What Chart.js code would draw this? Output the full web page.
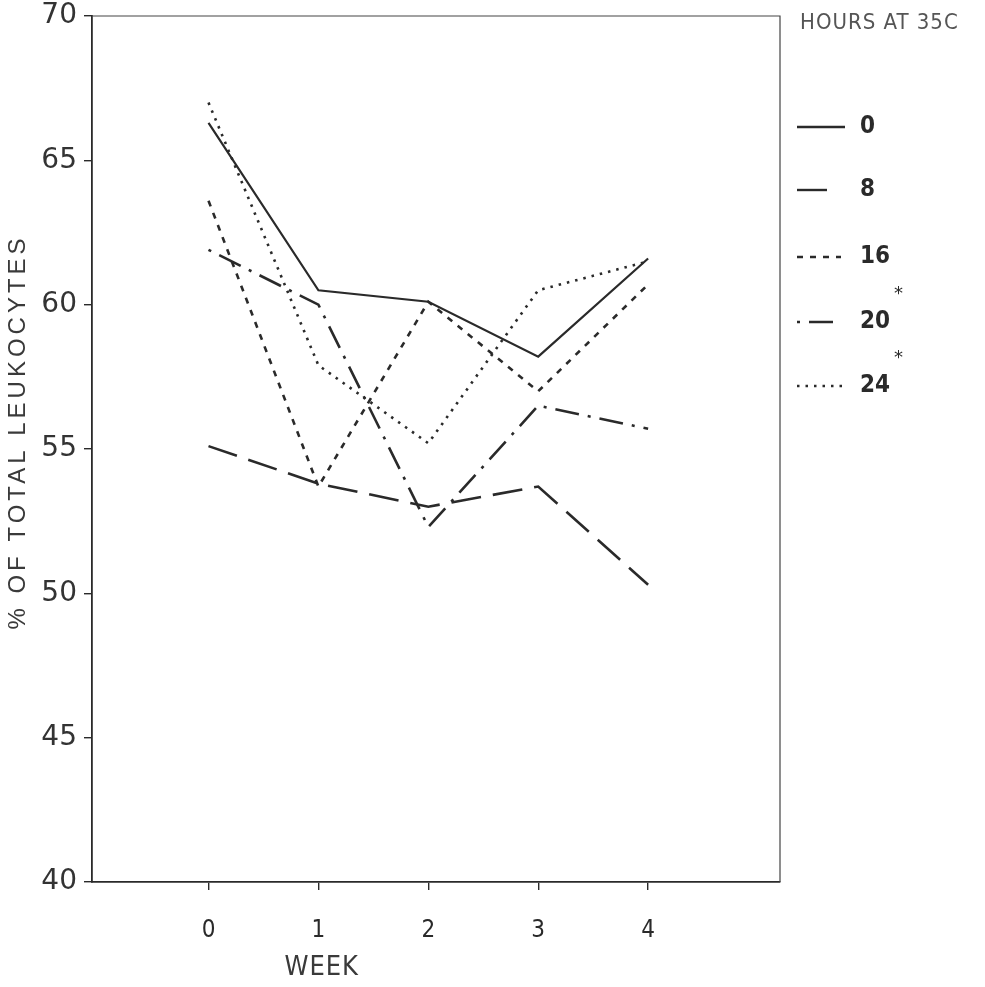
<!DOCTYPE html>
<html>
<head>
<meta charset="utf-8">
<script src="https://cdn.jsdelivr.net/npm/chart.js@4.4.1/dist/chart.umd.min.js"></script>
<style>
  html, body { margin: 0; padding: 0; background: #fff; }
  #wrap { width: 985px; height: 987px; }
</style>
</head>
<body>
<div id="wrap"><canvas id="chart" width="985" height="987"></canvas></div>
<script>
// weeks on the x axis, one series per number of hours at 35C
const weeks = [0, 1, 2, 3, 4];
const hours = ["0", "8", "16", "20", "24"];
const starred = [false, false, false, true, true];
const h0 = [66.3, 60.5, 60.1, 58.2, 61.6];
const h8 = [55.1, 53.8, 53.0, 53.7, 50.3];
const h16 = [63.6, 53.7, 60.1, 57.0, 60.7];
const h20 = [61.9, 60.0, 52.3, 56.5, 55.7];
const h24 = [67.0, 57.9, 55.2, 60.5, 61.5];

const INK = "#2a2a2a";
const NARROW = "'Liberation Sans Narrow', 'DejaVu Sans Condensed', 'Liberation Sans', sans-serif";
const dashes = [[], [30, 12], [6, 7], [3, 9, 24, 9], [2.5, 6]];
const sampleLen = [48, 36, 44, 44, 48];
const series = [h0, h8, h16, h20, h24];

const datasets = series.map((vals, i) => ({
  label: hours[i],
  data: weeks.map((w, j) => ({ x: w, y: vals[j] })),
  borderColor: INK,
  borderWidth: i === 0 ? 2.2 : 2.6,
  borderDash: dashes[i],
  pointRadius: 0,
  tension: 0,
  fill: false,
}));

const paper = {
  id: "paper",
  beforeDraw(chart) {
    const ctx = chart.ctx;
    ctx.save();
    ctx.fillStyle = "#ffffff";
    ctx.fillRect(0, 0, chart.width, chart.height);
    ctx.restore();
  },
  afterDraw(chart) {
    const ctx = chart.ctx;
    const a = chart.chartArea;
    ctx.save();

    // top and right edges of the frame
    ctx.strokeStyle = "#444";
    ctx.lineWidth = 1.2;
    ctx.beginPath();
    ctx.moveTo(a.left, a.top);
    ctx.lineTo(a.right, a.top);
    ctx.lineTo(a.right, a.bottom);
    ctx.stroke();

    // y title
    ctx.fillStyle = "#3a3a3a";
    ctx.font = "24px 'Liberation Sans', sans-serif";
    ctx.letterSpacing = "4px";
    ctx.textAlign = "center";
    ctx.textBaseline = "middle";
    ctx.save();
    ctx.translate(18, (a.top + a.bottom) / 2 - 17);
    ctx.rotate(-Math.PI / 2);
    ctx.fillText("% OF TOTAL LEUKOCYTES", 0, 0);
    ctx.restore();

    // x title
    ctx.letterSpacing = "1px";
    ctx.font = "27px " + NARROW;
    const xs = chart.scales.x;
    ctx.fillText("WEEK", xs.getPixelForValue(1.03), 968);

    // legend
    ctx.textAlign = "left";
    ctx.fillStyle = "#555";
    ctx.font = "22px " + NARROW;
    ctx.fillText("HOURS AT 35C", a.right + 20, 23);

    const rows = [127, 190, 257, 322, 386];
    const lx = a.right + 17;
    chart.data.datasets.forEach((ds, i) => {
      const y = rows[i];
      ctx.strokeStyle = INK;
      ctx.lineWidth = 2.4;
      ctx.setLineDash(ds.borderDash);
      ctx.beginPath();
      ctx.moveTo(lx, y);
      ctx.lineTo(lx + sampleLen[i], y);
      ctx.stroke();
      ctx.setLineDash([]);
      ctx.fillStyle = INK;
      ctx.letterSpacing = "0px";
      ctx.font = "bold 24px " + NARROW;
      ctx.fillText(ds.label, a.right + 80, y);
      if (starred[i]) {
        const w = ctx.measureText(ds.label).width;
        ctx.font = "18px 'DejaVu Sans', sans-serif";
        ctx.fillText("*", a.right + 84 + w, y - 28);
      }
    });
    ctx.restore();
  }
};

new Chart(document.getElementById("chart"), {
  type: "line",
  data: { datasets },
  options: {
    responsive: false,
    devicePixelRatio: 1,
    animation: false,
    layout: { padding: { top: 16, right: 205, bottom: 0, left: 0 } },
    plugins: { legend: { display: false }, tooltip: { enabled: false } },
    scales: {
      x: {
        type: "linear",
        min: -1.06,
        max: 5.2,
        afterBuildTicks: (s) => { s.ticks = weeks.map((v) => ({ value: v })); },
        afterFit: (s) => { s.height = 105; },
        grid: { drawOnChartArea: false, tickLength: 8, color: INK, lineWidth: 1.4 },
        border: { display: true, color: INK, width: 1.8 },
        ticks: { color: INK, padding: 26, font: { family: NARROW, size: 24 } },
      },
      y: {
        min: 40,
        max: 70,
        afterBuildTicks: (s) => { s.ticks = [40, 45, 50, 55, 60, 65, 70].map((v) => ({ value: v })); },
        afterFit: (s) => { s.width = 92; s.paddingTop = 0; s.paddingBottom = 0; },
        grid: { drawOnChartArea: false, tickLength: 8, color: INK, lineWidth: 1.4 },
        border: { display: true, color: INK, width: 1.8 },
        ticks: { color: "#333", padding: 7, font: { family: "'DejaVu Sans', sans-serif", size: 28 } },
      },
    },
  },
  plugins: [paper],
});
</script>
</body>
</html>
